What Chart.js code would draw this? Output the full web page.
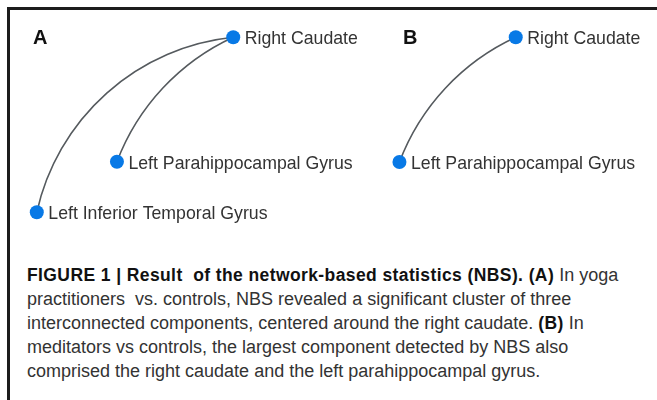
<!DOCTYPE html>
<html>
<head>
<meta charset="utf-8">
<script src="https://cdn.jsdelivr.net/npm/chart.js@4"></script>
<style>
  html, body { margin: 0; padding: 0; background: #fff; }
  body { width: 657px; height: 400px; position: relative; overflow: hidden; font-family: "Liberation Sans", Arial, sans-serif; }
  #frame { position: absolute; left: 7px; top: 7px; width: 700px; height: 450px; border-top: 3px solid #1c1c1c; border-left: 3px solid #1c1c1c; }
  #graph { position: absolute; left: 0; top: 0; }
  .panel { position: absolute; top: 27px; font-weight: bold; font-size: 20px; line-height: 20px; color: #111; }
  #caption { position: absolute; left: 27px; top: 263px; font-size: 18px; line-height: 24px; color: #333; white-space: nowrap; }
  #caption b { font-size: 17.5px; letter-spacing: 0.4px; color: #111; }
</style>
</head>
<body>
<div id="frame"></div>
<canvas id="graph" width="657" height="250"></canvas>
<div class="panel" style="left:33px">A</div>
<div class="panel" style="left:403px">B</div>
<div id="caption">
<b>FIGURE 1 | Result&nbsp; of the network-based statistics (NBS). (A)</b> In yoga<br>
practitioners&nbsp; vs. controls, NBS revealed a significant cluster of three<br>
interconnected components, centered around the right caudate. <b>(B)</b> In<br>
meditators vs controls, the largest component detected by NBS also<br>
comprised the right caudate and the left parahippocampal gyrus.
</div>
<script>
// panel A: yoga practitioners vs controls
const nodesA = ['Right Caudate', 'Left Parahippocampal Gyrus', 'Left Inferior Temporal Gyrus'];
const nodesAX = [35.5, 17.8, 5.6];
const nodesAY = [14.9, 64.7, 84.9];
const edgesA = [[1, 0], [2, 0]];

// panel B: meditators vs controls
const nodesB = ['Right Caudate', 'Left Parahippocampal Gyrus'];
const nodesBX = [78.5, 60.8];
const nodesBY = [14.9, 64.8];
const edgesB = [[1, 0]];

const nodeColor = '#0879e6';
const edgeColor = '#555a5e';
const arcRadius = 225;

function toPoints(xs, ys) {
    return xs.map((x, i) => ({ x: x, y: ys[i] }));
}

function drawArc(ctx, x0, y0, x1, y1, r) {
    const dx = x1 - x0, dy = y1 - y0;
    const c = Math.hypot(dx, dy);
    const h = Math.sqrt(Math.max(r * r - c * c / 4, 0));
    const cx = (x0 + x1) / 2 - dy / c * h;
    const cy = (y0 + y1) / 2 + dx / c * h;
    const a0 = Math.atan2(y0 - cy, x0 - cx);
    const a1 = Math.atan2(y1 - cy, x1 - cx);
    ctx.beginPath();
    ctx.arc(cx, cy, r, a0, a1, false);
    ctx.stroke();
}

const networkPlugin = {
    id: 'network',
    beforeDatasetsDraw(chart) {
        const ctx = chart.ctx;
        const sx = chart.scales.x, sy = chart.scales.y;
        ctx.save();
        ctx.strokeStyle = edgeColor;
        ctx.lineWidth = 1.6;
        chart.data.datasets.forEach(ds => {
            ds.edges.forEach(([a, b]) => {
                drawArc(ctx,
                    sx.getPixelForValue(ds.data[a].x), sy.getPixelForValue(ds.data[a].y),
                    sx.getPixelForValue(ds.data[b].x), sy.getPixelForValue(ds.data[b].y),
                    arcRadius);
            });
        });
        ctx.restore();
    },
    afterDatasetsDraw(chart) {
        const ctx = chart.ctx;
        const sx = chart.scales.x, sy = chart.scales.y;
        ctx.save();
        ctx.fillStyle = '#333';
        ctx.font = '17.7px "Liberation Sans", Arial, sans-serif';
        ctx.textBaseline = 'alphabetic';
        chart.data.datasets.forEach(ds => {
            ds.data.forEach((p, i) => {
                ctx.fillText(ds.names[i], sx.getPixelForValue(p.x) + 11.5, sy.getPixelForValue(p.y) + 7);
            });
        });
        ctx.restore();
    }
};

new Chart(document.getElementById('graph'), {
    type: 'scatter',
    data: {
        datasets: [
            { label: 'A', names: nodesA, edges: edgesA, data: toPoints(nodesAX, nodesAY) },
            { label: 'B', names: nodesB, edges: edgesB, data: toPoints(nodesBX, nodesBY) }
        ].map(ds => Object.assign(ds, {
            pointRadius: 7,
            pointBackgroundColor: nodeColor,
            pointBorderWidth: 0,
            clip: false
        }))
    },
    options: {
        responsive: false,
        animation: false,
        events: [],
        layout: { padding: 0, autoPadding: false },
        plugins: { legend: { display: false }, tooltip: { enabled: false } },
        scales: {
            x: { type: 'linear', min: 0, max: 100, display: false },
            y: { type: 'linear', min: 0, max: 100, reverse: true, display: false }
        }
    },
    plugins: [networkPlugin]
});
</script>
</body>
</html>
